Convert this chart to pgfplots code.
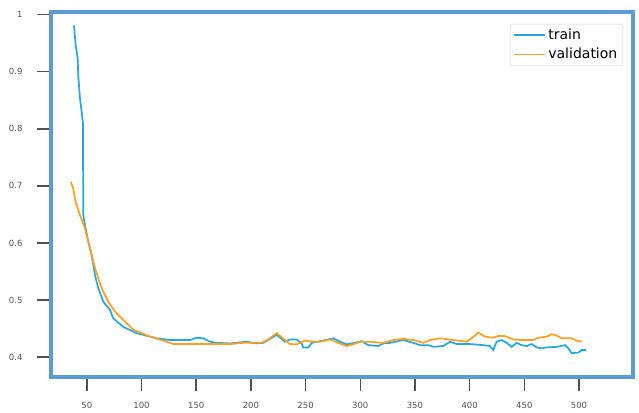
\documentclass[border=0pt]{standalone}
\usepackage{fontspec}
\setmainfont{DejaVu Sans}
\usepackage{pgfplots}
\pgfplotsset{compat=1.18}
\definecolor{frameblue}{HTML}{5B9BD5}
\definecolor{trainblue}{HTML}{22A6E6}
\definecolor{valorange}{HTML}{FF9E1F}
\definecolor{tickgray}{HTML}{505050}
\begin{document}
\begin{tikzpicture}
\begin{axis}[
  scale only axis,
  width=582pt, height=364.5pt,
  xmin=17.2, xmax=549.4,
  ymin=0.3652, ymax=1.0038,
  axis line style={draw=frameblue, line width=4pt},
  xtick={50,100,150,200,250,300,350,400,450,500},
  ytick={0.4,0.5,0.6,0.7,0.8,0.9,1},
  yticklabels={0.4,0.5,0.6,0.7,0.8,0.9,1},
  xtick pos=bottom, ytick pos=left,
  tick align=outside,
  major tick length=14pt,
  tick style={draw=tickgray, line width=1.5pt},
  /pgf/number format/assume math mode=true,
  ticklabel style={font=\fontsize{8.5}{10}\selectfont, text=tickgray},
  yticklabel style={xshift=-11pt},
  xticklabel style={yshift=-8pt},
  legend style={at={(1,1)}, anchor=north east, xshift=-10pt, yshift=-11.5pt,
    draw=black!20, rounded corners=2pt, font=\fontsize{14}{16}\selectfont,
    inner xsep=3pt, inner ysep=3pt, row sep=3pt,
    nodes={inner xsep=2.5pt}},
  legend cell align=left,
  legend image code/.code={\draw[#1] (0pt,0pt) -- (31pt,0pt);},
]
\addplot[trainblue, line width=1.7pt] table {
x y
38.2 0.981
39.7 0.947
41.6 0.924
42.1 0.894
43.7 0.853
45.2 0.830
46.4 0.810
46.7 0.649
48.2 0.632
51.3 0.602
54.4 0.579
57.4 0.544
60.4 0.521
65.0 0.497
71.1 0.483
74.1 0.468
83.3 0.453
95.5 0.442
113.8 0.433
126.0 0.430
144.3 0.430
150.4 0.434
156.4 0.433
162.6 0.427
168.7 0.425
180.9 0.424
196.1 0.427
205.3 0.424
211.3 0.425
223.6 0.439
231.1 0.427
235.7 0.431
241.8 0.431
246.4 0.424
247.9 0.417
252.5 0.417
255.6 0.425
266.2 0.429
275.3 0.433
281.4 0.427
287.6 0.4225
295.2 0.425
301.3 0.428
307.3 0.421
316.5 0.4195
321.0 0.424
327.2 0.425
339.3 0.430
348.5 0.425
354.6 0.421
362.2 0.421
366.8 0.418
375.9 0.4195
382.0 0.427
388.2 0.423
400.3 0.423
412.5 0.421
418.6 0.4195
421.6 0.4125
424.7 0.427
429.3 0.430
433.9 0.425
438.5 0.418
443.0 0.425
447.6 0.421
452.2 0.4195
456.8 0.423
461.3 0.417
465.9 0.4155
470.5 0.417
479.6 0.418
487.2 0.421
490.2 0.4155
493.3 0.407
499.4 0.408
502.5 0.4125
506.4 0.4125
};
\addlegendentry{train}
\addplot[valorange, line width=1.7pt] table {
x y
35.2 0.707
37.5 0.696
39.7 0.672
43.7 0.649
48.2 0.626
52.8 0.591
57.4 0.556
63.5 0.521
69.6 0.497
75.7 0.480
80.3 0.471
92.4 0.448
107.7 0.436
123.0 0.427
129.0 0.423
144.3 0.423
180.9 0.423
193.0 0.425
209.8 0.425
215.9 0.431
223.6 0.442
231.1 0.430
235.7 0.423
241.8 0.4225
249.4 0.429
257.0 0.427
263.2 0.427
272.3 0.431
279.9 0.425
287.6 0.4195
293.6 0.4225
299.7 0.427
308.9 0.427
321.0 0.425
330.2 0.430
339.3 0.432
348.5 0.430
357.6 0.425
363.8 0.430
372.9 0.433
385.1 0.430
397.3 0.427
401.9 0.433
407.9 0.443
414.0 0.436
421.6 0.434
426.2 0.437
432.3 0.437
439.9 0.431
446.1 0.430
458.2 0.430
462.8 0.434
470.5 0.436
475.0 0.440
479.6 0.438
484.2 0.433
493.3 0.433
497.9 0.429
502.5 0.427
};
\addlegendentry{validation}
\end{axis}
\path ([shift={(-51pt,-34pt)}]current axis.south west) rectangle ([shift={(6pt,12.5pt)}]current axis.north east);
\end{tikzpicture}
\end{document}
